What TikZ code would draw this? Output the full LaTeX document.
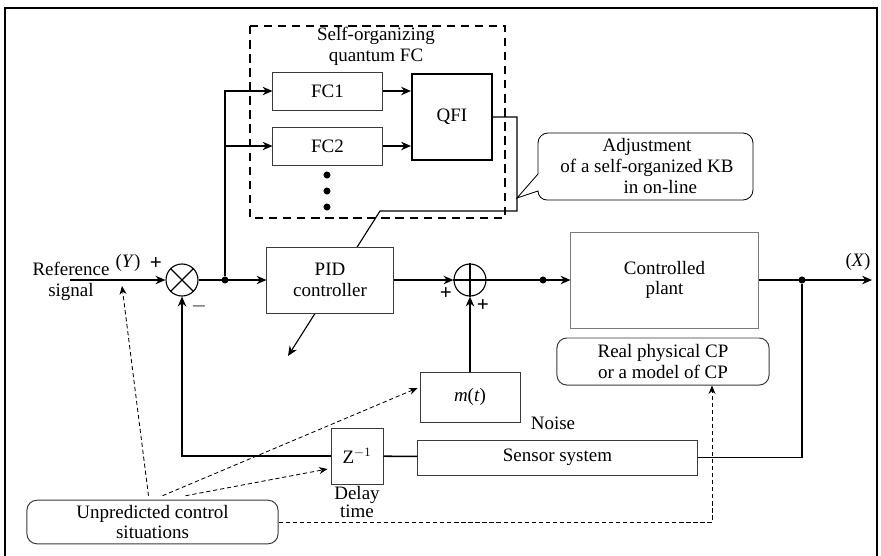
\documentclass[tikz,border=0pt]{standalone}
\usepackage{fontspec}
\setmainfont{Liberation Serif}
\usepackage{tikz}
\usetikzlibrary{arrows.meta,calc,positioning}
\definecolor{plantgray}{HTML}{7A7A7A}
\definecolor{boxgray}{HTML}{3A3A3A}
\tikzset{
  sigline/.style={black, -{Stealth[length=7pt,width=6pt]}, line width=1.1pt},
  plainline/.style={black, line width=1.1pt},
  thinline/.style={black, line width=0.8pt},
  dashline/.style={black, dash pattern=on 3pt off 2pt, line width=0.6pt, -{Stealth[length=6pt,width=5pt]}},
  dashplain/.style={black, dash pattern=on 3pt off 2pt, line width=0.6pt},
  block/.style={draw=boxgray, line width=0.7pt, fill=white, align=center, inner sep=2pt},
  thickblock/.style={draw, line width=1.4pt, fill=white, align=center},
  roundbox/.style={draw=boxgray, rounded corners=7pt, line width=0.7pt, align=center},
  sumnode/.style={circle, draw, line width=0.8pt, minimum size=0.8cm, inner sep=0pt},
  junction/.style={circle, fill=black, inner sep=0pt, minimum size=5pt},
  sign/.style={font=\fontsize{15}{15}\selectfont\bfseries, inner sep=0pt},
  groupbox/.style={draw, dash pattern=on 6pt off 4pt, line width=1pt}
}

\begin{document}
\begin{tikzpicture}[x=0.025cm, y=-0.025cm, every node/.style={font=\fontsize{13.5}{14.8}\selectfont}]
  \useasboundingbox (0,0) rectangle (881,555);
  \draw[line width=1.4pt] (5,556) -- (5,8) -- (877,8) -- (877,556);
  \draw[groupbox] (250,26) rectangle (505,218);
  \node[align=center] (qfctitle) at (376,46) {Self-organizing\\quantum FC};
  \node[block, minimum width=2.725cm, minimum height=0.95cm] (fcone) at (327.5,91) {FC1};
  \node[block, minimum width=2.725cm, minimum height=0.95cm] (fctwo) at (327.5,146) {FC2};
  \foreach \y/\name in {175/dota,191/dotb,207/dotc}{\node[junction] (\name) at (327,\y) {};}
  \node[thickblock, minimum width=2cm, minimum height=2.15cm] (qfi) at (452,117) {QFI};

  \coordinate (kbright) at (517,211);
  \coordinate (kbturn) at (380,211);
  \coordinate (kbtip) at (288,356);
  \draw[thinline, -{Stealth[length=7pt,width=6pt]}] (qfi.east) -| (kbright) -- (kbturn) -- (kbtip);

  \draw[line width=0.6pt] (517,198) -- (538,174) -- (538,143) arc[start angle=180, end angle=90, radius=0.25cm] -- (743,133) arc[start angle=90, end angle=0, radius=0.25cm] -- (753,190) arc[start angle=0, end angle=-90, radius=0.25cm] -- (547,200) arc[start angle=270, end angle=180, radius=0.225cm] -- cycle;
  \node[align=center] (adjust) at (647,166) {Adjustment\\of a self-organized KB\\\hspace*{1.4em}in on-line};

  \node[block, minimum width=3.15cm, minimum height=1.65cm] (pid) at (330,280) {PID\\controller};
  \node[sumnode] (sumy) at (182,280) {};
  \draw[thinline] (sumy.north west) -- (sumy.south east) (sumy.north east) -- (sumy.south west);
  \node[sumnode] (sumu) at (470,280) {};
  \draw[thinline] (sumu.north) -- (sumu.south) (sumu.west) -- (sumu.east);
  \node[block, draw=plantgray, minimum width=4.675cm, minimum height=2.4cm] (plant) at (664.5,280) {Controlled\\plant};
  \node[roundbox, minimum width=5.3cm, minimum height=1.175cm] (realcp) at (663,361.5) {Real physical CP\\or a model of CP};
  \node[block, minimum width=2.5cm, minimum height=1.25cm] (mt) at (470,397) {\textit{m}(\textit{t})};
  \node (noise) at (553,423) {Noise};
  \node[block, minimum width=6.975cm, minimum height=0.875cm] (sensor) at (557.5,457.5) {Sensor system};
  \node[block, minimum width=1.3cm, minimum height=1.4cm] (zinv) at (357,456) {Z$^{-1}$};
  \node[align=center] (delay) at (357,502) {Delay\\[-2.5pt]time};
  \node[roundbox, minimum width=6.275cm, minimum height=1.05cm] (unpred) at (152.5,522) {Unpredicted control\\situations};
  \node[align=center] (refsig) at (71,281) {Reference\\signal};

  \node (ylabel) at (128,263) {(\textit{Y})};
  \node[sign] (yplus) at (156,264) {+};
  \node[sign] (fbminus) at (199,306) {$-$};
  \node[sign] (uplusa) at (446,294) {+};
  \node[sign] (uplusb) at (483,306) {+};
  \node (xlabel) at (858,262) {(\textit{X})};

  \node[junction] (split) at (225,280) {};
  \node[junction] (usplit) at (543,280) {};
  \node[junction] (xsplit) at (802,280) {};
  \coordinate (refin) at (70,280);
  \coordinate (xout) at (872,280);
  \coordinate (refpt) at (122,286);

  \draw[sigline] (refin) -- (sumy);
  \draw[sigline] (sumy) -- (pid);
  \draw[sigline] (split) |- (fcone);
  \draw[sigline] (split |- fctwo) -- (fctwo);
  \draw[sigline] (fcone) -- (fcone -| qfi.west);
  \draw[sigline] (fctwo) -- (fctwo -| qfi.west);
  \draw[sigline] (pid) -- (sumu);
  \draw[sigline] (sumu) -- (plant);
  \draw[sigline] (plant) -- (xout);
  \draw[plainline] (xsplit) |- (sensor);
  \draw[plainline] (sensor) -- (zinv);
  \draw[sigline] (zinv) -| (sumy);
  \draw[sigline] (mt) -- (sumu);

  \draw[dashline] ($(unpred.north)+(-4,-4)$) -- (refpt);
  \draw[dashline] ($(unpred.north)+(10,-4)$) -- ($(mt.west)+(-2,-9)$);
  \draw[dashline] ($(unpred.north)+(33,-4)$) -- ($(zinv.west)+(-3,13)$);
  \draw[dashline] (unpred.east) -| ($(realcp.south)+(49,0)$);
\end{tikzpicture}
\end{document}
